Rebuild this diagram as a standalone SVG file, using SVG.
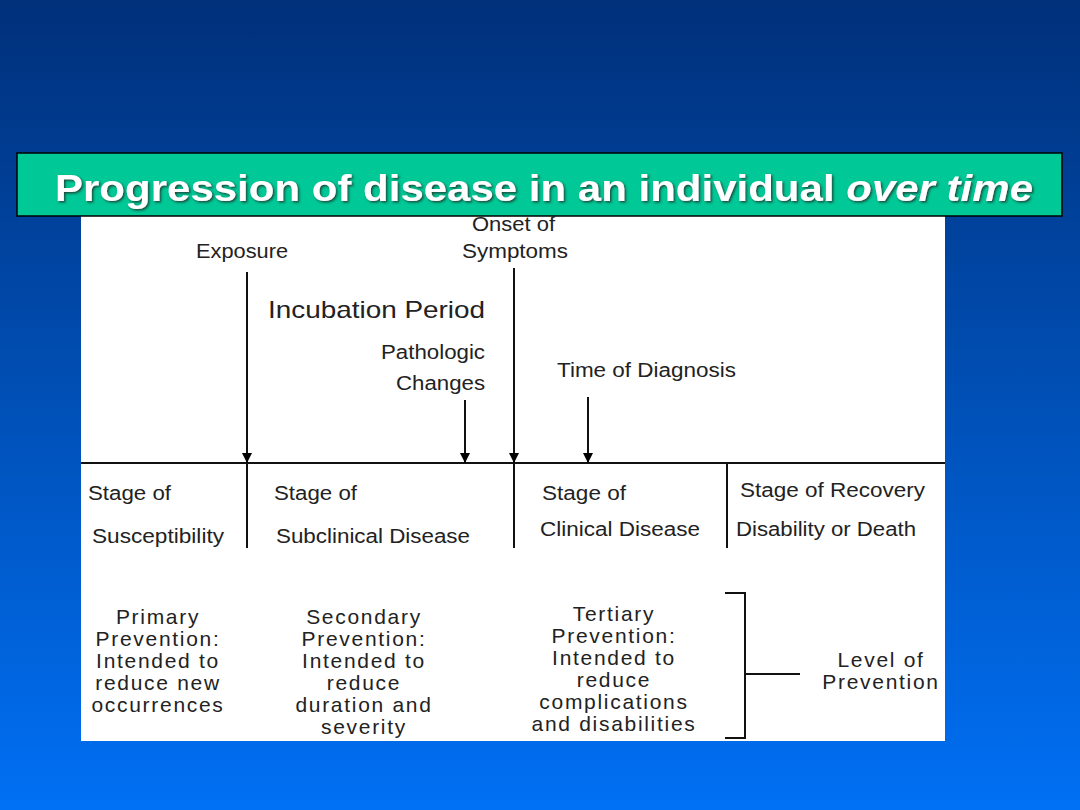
<svg xmlns="http://www.w3.org/2000/svg" width="1080" height="810" viewBox="0 0 1080 810">
<defs>
<linearGradient id="bg" x1="0" y1="0" x2="0" y2="1">
<stop offset="0" stop-color="#00307a"/>
<stop offset="1" stop-color="#0070f4"/>
</linearGradient>
<marker id="ah" viewBox="0 0 10 10" refX="10" refY="5" markerWidth="10" markerHeight="10" markerUnits="userSpaceOnUse" orient="auto">
<path d="M0,0 L10,5 L0,10 z" fill="#000"/>
</marker>
<filter id="sh" x="-5%" y="-20%" width="110%" height="140%">
<feDropShadow dx="1.5" dy="1.5" stdDeviation="0.8" flood-color="#1a3a30" flood-opacity="0.9"/>
</filter>
</defs>
<style>
.t{font-family:"Liberation Sans",Arial,sans-serif;fill:#222;}
.lb{font-size:20px;}
.st{font-size:20px;}
.pv{font-size:21px;letter-spacing:1.7px;text-anchor:middle;}
.ln{stroke:#111;stroke-width:2;fill:none;}
</style>
<rect width="1080" height="810" fill="url(#bg)"/>
<rect x="81" y="215" width="864" height="526" fill="#fff"/>
<g id="title">
<rect x="17" y="153" width="1045" height="63" fill="#00c896" stroke="#000" stroke-width="1.5"/>
<text x="55" y="201" textLength="978" lengthAdjust="spacingAndGlyphs" filter="url(#sh)" style="font-family:'Liberation Sans',Arial,sans-serif;font-size:37px;font-weight:bold;fill:#fff;">Progression of disease in an individual <tspan font-style="italic">over time</tspan></text>
</g>
<g id="connectors">
<line class="ln" x1="81" y1="463" x2="945" y2="463"/>
<line class="ln" x1="247" y1="463" x2="247" y2="548"/>
<line class="ln" x1="514" y1="463" x2="514" y2="548"/>
<line class="ln" x1="727" y1="463" x2="727" y2="548"/>
<line class="ln" x1="247" y1="272" x2="247" y2="463" marker-end="url(#ah)"/>
<line class="ln" x1="514" y1="268" x2="514" y2="463" marker-end="url(#ah)"/>
<line class="ln" x1="465" y1="400" x2="465" y2="463" marker-end="url(#ah)"/>
<line class="ln" x1="588" y1="397" x2="588" y2="463" marker-end="url(#ah)"/>
<path class="ln" d="M725,593 H745 V738 H725 M745,674 H800"/>
</g>
<g id="exposure"><text class="t lb" x="196" y="258" textLength="92" lengthAdjust="spacingAndGlyphs">Exposure</text></g>
<g id="onset"><text class="t lb" x="472" y="231" textLength="83" lengthAdjust="spacingAndGlyphs">Onset of</text><text class="t lb" x="462" y="258" textLength="106" lengthAdjust="spacingAndGlyphs">Symptoms</text></g>
<g id="incubation"><text class="t" x="268" y="318" textLength="217" lengthAdjust="spacingAndGlyphs" style="font-size:24px">Incubation Period</text></g>
<g id="pathologic"><text class="t lb" x="381" y="359" textLength="104" lengthAdjust="spacingAndGlyphs">Pathologic</text><text class="t lb" x="396" y="390" textLength="89" lengthAdjust="spacingAndGlyphs">Changes</text></g>
<g id="diagnosis"><text class="t lb" x="557" y="377" textLength="179" lengthAdjust="spacingAndGlyphs">Time of Diagnosis</text></g>
<g id="stage1"><text class="t st" x="88" y="500" textLength="83" lengthAdjust="spacingAndGlyphs">Stage of</text><text class="t st" x="92" y="543" textLength="132" lengthAdjust="spacingAndGlyphs">Susceptibility</text></g>
<g id="stage2"><text class="t st" x="274" y="500" textLength="83" lengthAdjust="spacingAndGlyphs">Stage of</text><text class="t st" x="276" y="543" textLength="194" lengthAdjust="spacingAndGlyphs">Subclinical Disease</text></g>
<g id="stage3"><text class="t st" x="542" y="500" textLength="84" lengthAdjust="spacingAndGlyphs">Stage of</text><text class="t st" x="540" y="536" textLength="160" lengthAdjust="spacingAndGlyphs">Clinical Disease</text></g>
<g id="stage4"><text class="t st" x="740" y="497" textLength="185" lengthAdjust="spacingAndGlyphs">Stage of Recovery</text><text class="t st" x="736" y="536" textLength="180" lengthAdjust="spacingAndGlyphs">Disability or Death</text></g>
<g id="primary">
<text class="t pv" x="158" y="624">Primary</text>
<text class="t pv" x="158" y="646">Prevention:</text>
<text class="t pv" x="158" y="668">Intended to</text>
<text class="t pv" x="158" y="690">reduce new</text>
<text class="t pv" x="158" y="712">occurrences</text>
</g>
<g id="secondary">
<text class="t pv" x="364" y="624">Secondary</text>
<text class="t pv" x="364" y="646">Prevention:</text>
<text class="t pv" x="364" y="668">Intended to</text>
<text class="t pv" x="364" y="690">reduce</text>
<text class="t pv" x="364" y="712">duration and</text>
<text class="t pv" x="364" y="734">severity</text>
</g>
<g id="tertiary">
<text class="t pv" x="614" y="621">Tertiary</text>
<text class="t pv" x="614" y="643">Prevention:</text>
<text class="t pv" x="614" y="665">Intended to</text>
<text class="t pv" x="614" y="687">reduce</text>
<text class="t pv" x="614" y="709">complications</text>
<text class="t pv" x="614" y="731">and disabilities</text>
</g>
<g id="level">
<text class="t pv" x="881" y="667">Level of</text>
<text class="t pv" x="881" y="689">Prevention</text>
</g>
</svg>
